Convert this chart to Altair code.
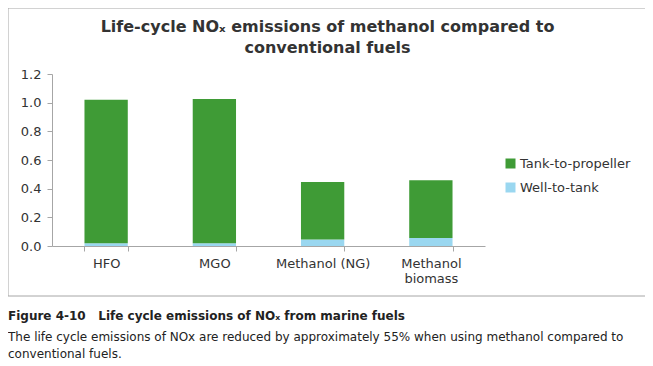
import altair as alt
import pandas as pd

fuels = ["HFO", "MGO", "Methanol (NG)", "Methanol biomass"]
series = ["Tank-to-propeller", "Well-to-tank"]
well_to_tank = [0.02, 0.02, 0.045, 0.055]
tank_to_propeller = [1.00, 1.005, 0.402, 0.403]
colors = ["#3f9b36", "#9ad7f0"]
title_lines = ["Life-cycle NOₓ emissions of methanol compared to", "conventional fuels"]
caption_bold = "Figure 4-10\u00a0\u00a0\u00a0Life cycle emissions of NOₓ from marine fuels"
caption_lines = [
    "The life cycle emissions of NOx are reduced by approximately 55% when using methanol compared to",
    "conventional fuels.",
]

rows = []
for f, w, t in zip(fuels, well_to_tank, tank_to_propeller):
    rows.append({"fuel": f, "series": series[1], "value": w, "ord": 0})
    rows.append({"fuel": f, "series": series[0], "value": t, "ord": 1})
df = pd.DataFrame(rows)

FONT = "DejaVu Sans"
TEXT = "#333333"

frame = alt.Chart(pd.DataFrame({"a": [0]})).mark_rect(
    fillOpacity=0, stroke="#a6a6a6", strokeWidth=1
).encode(x=alt.value(-44), x2=alt.value(595), y=alt.value(-66), y2=alt.value(222))

bars = alt.Chart(df).mark_bar().encode(
    x=alt.X(
        "fuel:N",
        sort=fuels,
        title=None,
        scale=alt.Scale(paddingInner=0.6, paddingOuter=0.3),
        axis=alt.Axis(
            labelAngle=0,
            tickBand="extent",
            labelExpr="datum.label == 'Methanol biomass' ? ['Methanol', 'biomass'] : datum.label",
            labelFont=FONT,
            labelFontSize=13,
            labelColor=TEXT,
            labelPadding=6,
            domainColor="#a6a6a6",
            tickColor="#a6a6a6",
            tickSize=5,
            grid=False,
        ),
    ),
    y=alt.Y(
        "value:Q",
        stack="zero",
        title=None,
        scale=alt.Scale(domain=[0, 1.2]),
        axis=alt.Axis(
            values=[0, 0.2, 0.4, 0.6, 0.8, 1.0, 1.2],
            format=".1f",
            labelFont=FONT,
            labelFontSize=13,
            labelColor=TEXT,
            labelPadding=6,
            domainColor="#a6a6a6",
            tickColor="#a6a6a6",
            tickSize=5,
            grid=False,
        ),
    ),
    color=alt.Color(
        "series:N",
        scale=alt.Scale(domain=series, range=colors),
        legend=alt.Legend(
            title=None,
            orient="none",
            legendX=452,
            legendY=83,
            symbolType="square",
            symbolSize=100,
            symbolStrokeWidth=0,
            labelFont=FONT,
            labelFontSize=13,
            labelColor=TEXT,
            rowPadding=10,
            labelOffset=3,
        ),
    ),
    order=alt.Order("ord:Q"),
)


def text_line(t, x, y, size, weight, color, align):
    return alt.Chart(pd.DataFrame({"t": [t]})).mark_text(
        font=FONT, fontSize=size, fontWeight=weight, color=color, align=align, baseline="middle"
    ).encode(x=alt.value(x), y=alt.value(y), text="t:N")


layers = [frame, bars]
for t, y in zip(title_lines, [-47, -26]):
    layers.append(text_line(t, 275.5, y, 16, "bold", TEXT, "center"))
layers.append(text_line(caption_bold, -44, 242, 12, "bold", "#222222", "left"))
for t, y in zip(caption_lines, [263, 280]):
    layers.append(text_line(t, -44, y, 12, "normal", "#222222", "left"))

chart = alt.layer(*layers).properties(
    width=433,
    height=172,
    padding={"left": 44, "top": 66, "right": 160, "bottom": 118},
    autosize=alt.AutoSizeParams(type="none"),
).configure_view(stroke=None)

chart.save("out.html", embed_options={"renderer": "svg", "actions": False})
